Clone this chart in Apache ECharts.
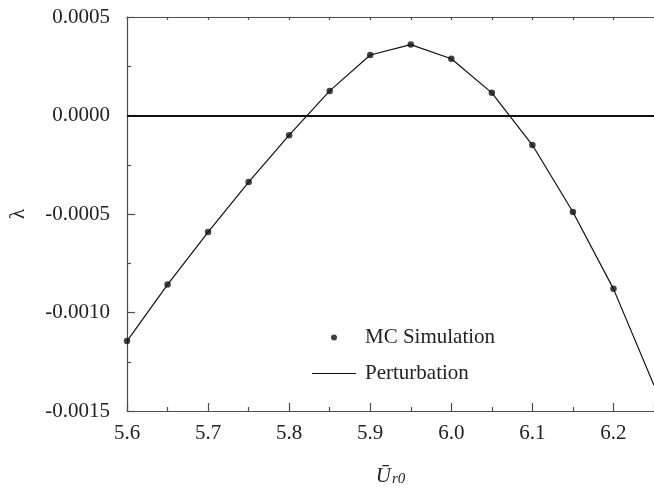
<!DOCTYPE html>
<html>
<head>
<meta charset="utf-8">
<script src="https://cdn.jsdelivr.net/npm/echarts@6/dist/echarts.min.js"></script>
<style>
html,body{margin:0;padding:0;background:#fff;}
#chart{width:654px;height:492px;}
</style>
</head>
<body>
<div id="chart"></div>
<script>
// ---- data ----
const xValues = [5.6, 5.65, 5.7, 5.75, 5.8, 5.85, 5.9, 5.95, 6.0, 6.05, 6.1, 6.15, 6.2];
const mcValues = [-0.001145, -0.000858, -0.000592, -0.000338, -0.0001, 0.000125, 0.000307, 0.00036, 0.000288, 0.000115, -0.00015, -0.00049, -0.00088];
const pertX = [5.6, 5.65, 5.7, 5.75, 5.8, 5.85, 5.9, 5.95, 6.0, 6.05, 6.1, 6.15, 6.2, 6.25];
const pertValues = [-0.001145, -0.000858, -0.000592, -0.000338, -0.0001, 0.000125, 0.000307, 0.00036, 0.000288, 0.000115, -0.00015, -0.00049, -0.00088, -0.00137];
const xTickLabels = ['5.6', '5.7', '5.8', '5.9', '6.0', '6.1', '6.2'];
const yTickLabels = ['-0.0015', '-0.0010', '-0.0005', '0.0000', '0.0005'];
const seriesNames = ['MC Simulation', 'Perturbation'];

const FONT = "'Liberation Serif', 'Times New Roman', serif";
const AXIS_COLOR = '#4d4d4d';
const TEXT_COLOR = '#222';

const chart = echarts.init(document.getElementById('chart'), null, {renderer: 'canvas'});

const mcData = xValues.map((x, i) => [x, mcValues[i]]);
const pertData = pertX.map((x, i) => [x, pertValues[i]]);

function xLabel(v) {
  const s = v.toFixed(1);
  return xTickLabels.indexOf(s) >= 0 && Math.abs(v * 10 - Math.round(v * 10)) < 1e-6 ? s : '';
}
function yLabel(v) {
  let s = v.toFixed(4);
  if (s === '-0.0000') s = '0.0000';
  return yTickLabels.indexOf(s) >= 0 ? s : '';
}

const option = {
  animation: false,
  backgroundColor: '#fff',
  grid: {left: 125, right: -7, top: 17, bottom: 75, containLabel: false},
  legend: {
    orient: 'vertical',
    left: 312,
    top: 327,
    padding: 0,
    itemWidth: 44,
    itemHeight: 20,
    itemGap: 15,
    selectedMode: false,
    textStyle: {fontFamily: FONT, fontSize: 21, color: TEXT_COLOR, lineHeight: 20, padding: [0, 0, 0, 4]},
    data: [
      {name: seriesNames[0], icon: 'path://M0,0M44,20M19,10a3,3 0 1,0 6,0a3,3 0 1,0 -6,0Z', itemStyle: {color: '#111'}},
      {name: seriesNames[1], icon: 'path://M0,0M44,20M0,9.4L44,9.4L44,10.6L0,10.6Z', itemStyle: {color: '#111'}}
    ]
  },
  xAxis: [
    {
      type: 'value',
      position: 'bottom',
      min: 5.6,
      max: 6.25,
      interval: 0.1,
      name: '{u|Ū}{s|r0}',
      nameLocation: 'middle',
      nameGap: 52,
      nameTextStyle: {
        rich: {
          u: {fontFamily: FONT, fontSize: 21, fontStyle: 'italic', color: TEXT_COLOR, lineHeight: 24, verticalAlign: 'bottom'},
          s: {fontFamily: FONT, fontSize: 15, fontStyle: 'italic', color: TEXT_COLOR, lineHeight: 20, verticalAlign: 'bottom', padding: [0, 0, 0, 1]}
        }
      },
      axisLine: {show: true, onZero: false, lineStyle: {color: AXIS_COLOR, width: 1.2}},
      axisTick: {show: true, inside: true, length: 8, lineStyle: {color: AXIS_COLOR, width: 1.2}},
      minorTick: {show: true, splitNumber: 2, length: 4, lineStyle: {color: AXIS_COLOR, width: 1.2}},
      axisLabel: {fontFamily: FONT, fontSize: 21, color: TEXT_COLOR, margin: 12, formatter: xLabel, showMaxLabel: false},
      splitLine: {show: false}
    },
    {
      type: 'value',
      position: 'top',
      min: 5.6,
      max: 6.25,
      interval: 0.05,
      axisLine: {show: true, onZero: false, lineStyle: {color: AXIS_COLOR, width: 1.2}},
      axisTick: {show: true, inside: true, length: 3, lineStyle: {color: AXIS_COLOR, width: 1.2}},
      axisLabel: {show: false},
      splitLine: {show: false}
    }
  ],
  yAxis: {
    type: 'value',
    min: -0.0015,
    max: 0.0005,
    interval: 0.0005,
    name: 'λ',
    nameLocation: 'middle',
    nameRotate: 90,
    nameGap: 98,
    nameTextStyle: {fontFamily: FONT, fontSize: 21, color: TEXT_COLOR},
    axisLine: {show: true, onZero: false, lineStyle: {color: AXIS_COLOR, width: 1.2}},
    axisTick: {show: true, inside: true, length: 8, lineStyle: {color: AXIS_COLOR, width: 1.2}},
    minorTick: {show: true, splitNumber: 2, length: 4, lineStyle: {color: AXIS_COLOR, width: 1.2}},
    axisLabel: {fontFamily: FONT, fontSize: 21, color: TEXT_COLOR, margin: 17, formatter: yLabel},
    splitLine: {show: false}
  },
  series: [
    {
      name: seriesNames[1],
      type: 'line',
      data: pertData,
      showSymbol: false,
      symbol: 'none',
      clip: true,
      lineStyle: {color: '#111', width: 1.2},
      itemStyle: {color: '#111'},
      z: 2,
      markLine: {
        silent: true,
        symbol: 'none',
        label: {show: false},
        lineStyle: {color: '#111', width: 1.8, type: 'solid'},
        data: [{yAxis: 0}]
      }
    },
    {
      name: seriesNames[0],
      type: 'scatter',
      data: mcData,
      symbol: 'circle',
      symbolSize: 6.5,
      itemStyle: {color: '#111'},
      z: 3
    }
  ]
};

chart.setOption(option);
</script>
</body>
</html>
